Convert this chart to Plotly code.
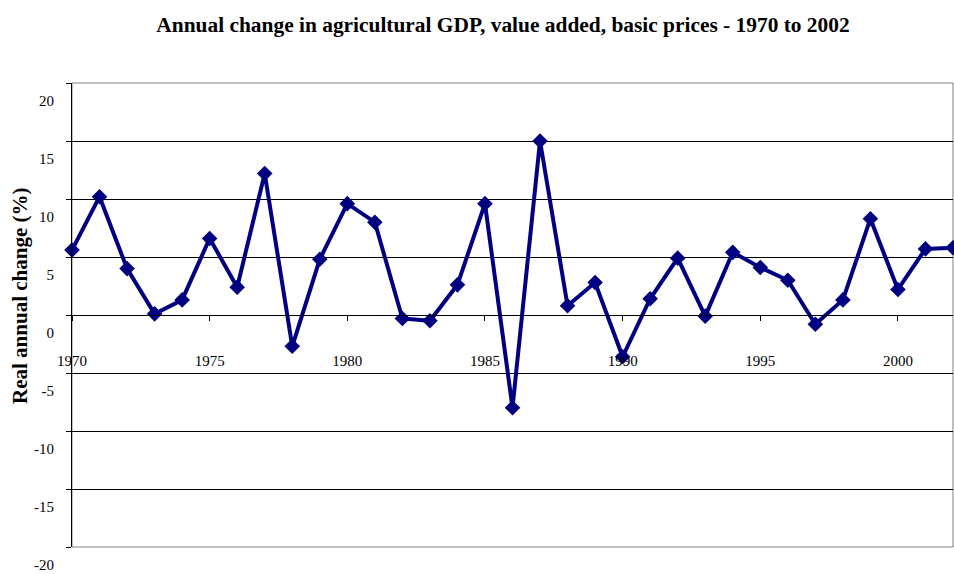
import plotly.graph_objects as go

years = list(range(1970, 2003))
change = [5.6, 10.2, 4.0, 0.1, 1.3, 6.6, 2.4, 12.2, -2.7, 4.8,
          9.6, 8.0, -0.3, -0.5, 2.6, 9.6, -8.0, 15.0, 0.8, 2.8,
          -3.6, 1.4, 4.9, -0.1, 5.4, 4.1, 3.0, -0.8, 1.3, 8.3,
          2.2, 5.7, 5.8]
x_ticks = [1970, 1975, 1980, 1985, 1990, 1995, 2000]
y_ticks = [-20, -15, -10, -5, 0, 5, 10, 15, 20]
y_tick_labels = ["-20", "-15", "-10", "-5", "0", "5", "10", "15", "20"]

title = "Annual change in agricultural GDP, value added, basic prices - 1970 to 2002"
y_title = "Real annual change (%)"

FONT = "Liberation Serif, Times New Roman, serif"

fig = go.Figure()
fig.add_trace(go.Scatter(
    x=years, y=change, mode="lines+markers",
    line=dict(color="#000080", width=4),
    marker=dict(symbol="diamond", size=12, color="#000080"),
    cliponaxis=False, showlegend=False,
))

fig.update_layout(
    width=954, height=574,
    paper_bgcolor="white", plot_bgcolor="white",
    margin=dict(l=72, r=1, t=83, b=27),
    title=dict(text=f"<b>{title}</b>", x=503 / 954, xref="container", xanchor="center",
               y=1 - 25 / 574, yref="container", yanchor="middle",
               font=dict(family=FONT, size=21.4, color="black")),
    font=dict(family=FONT, color="black"),
    xaxis=dict(range=[1970, 2002], tickvals=x_ticks, showgrid=False, zeroline=False,
               showline=True, linecolor="black", linewidth=1,
               ticks="outside", ticklen=5, tickcolor="black",
               anchor="free", position=0.5, ticklabelstandoff=27,
               tickfont=dict(family=FONT, size=15, color="black")),
    yaxis=dict(range=[-20, 20], tickvals=y_ticks, ticktext=y_tick_labels,
               showgrid=True, gridcolor="black",
               gridwidth=1, zeroline=False, showline=True, linecolor="black", linewidth=1,
               ticks="outside", ticklen=5, tickcolor="black",
               ticklabelshift=18, ticklabelstandoff=9,
               tickfont=dict(family=FONT, size=15, color="black")),
    shapes=[dict(type="rect", xref="paper", yref="paper", x0=0, x1=1, y0=0, y1=1,
                 line=dict(color="#808080", width=1), layer="between")],
    annotations=[dict(text=f"<b>{y_title}</b>", textangle=-90, xref="paper", yref="paper",
                      x=0, xanchor="center", xshift=-52, y=0.541, yanchor="middle",
                      showarrow=False, font=dict(family=FONT, size=21, color="black"))],
)

fig.write_html("out.html", config={"displayModeBar": False},
               post_script="document.body.style.margin='0';")
